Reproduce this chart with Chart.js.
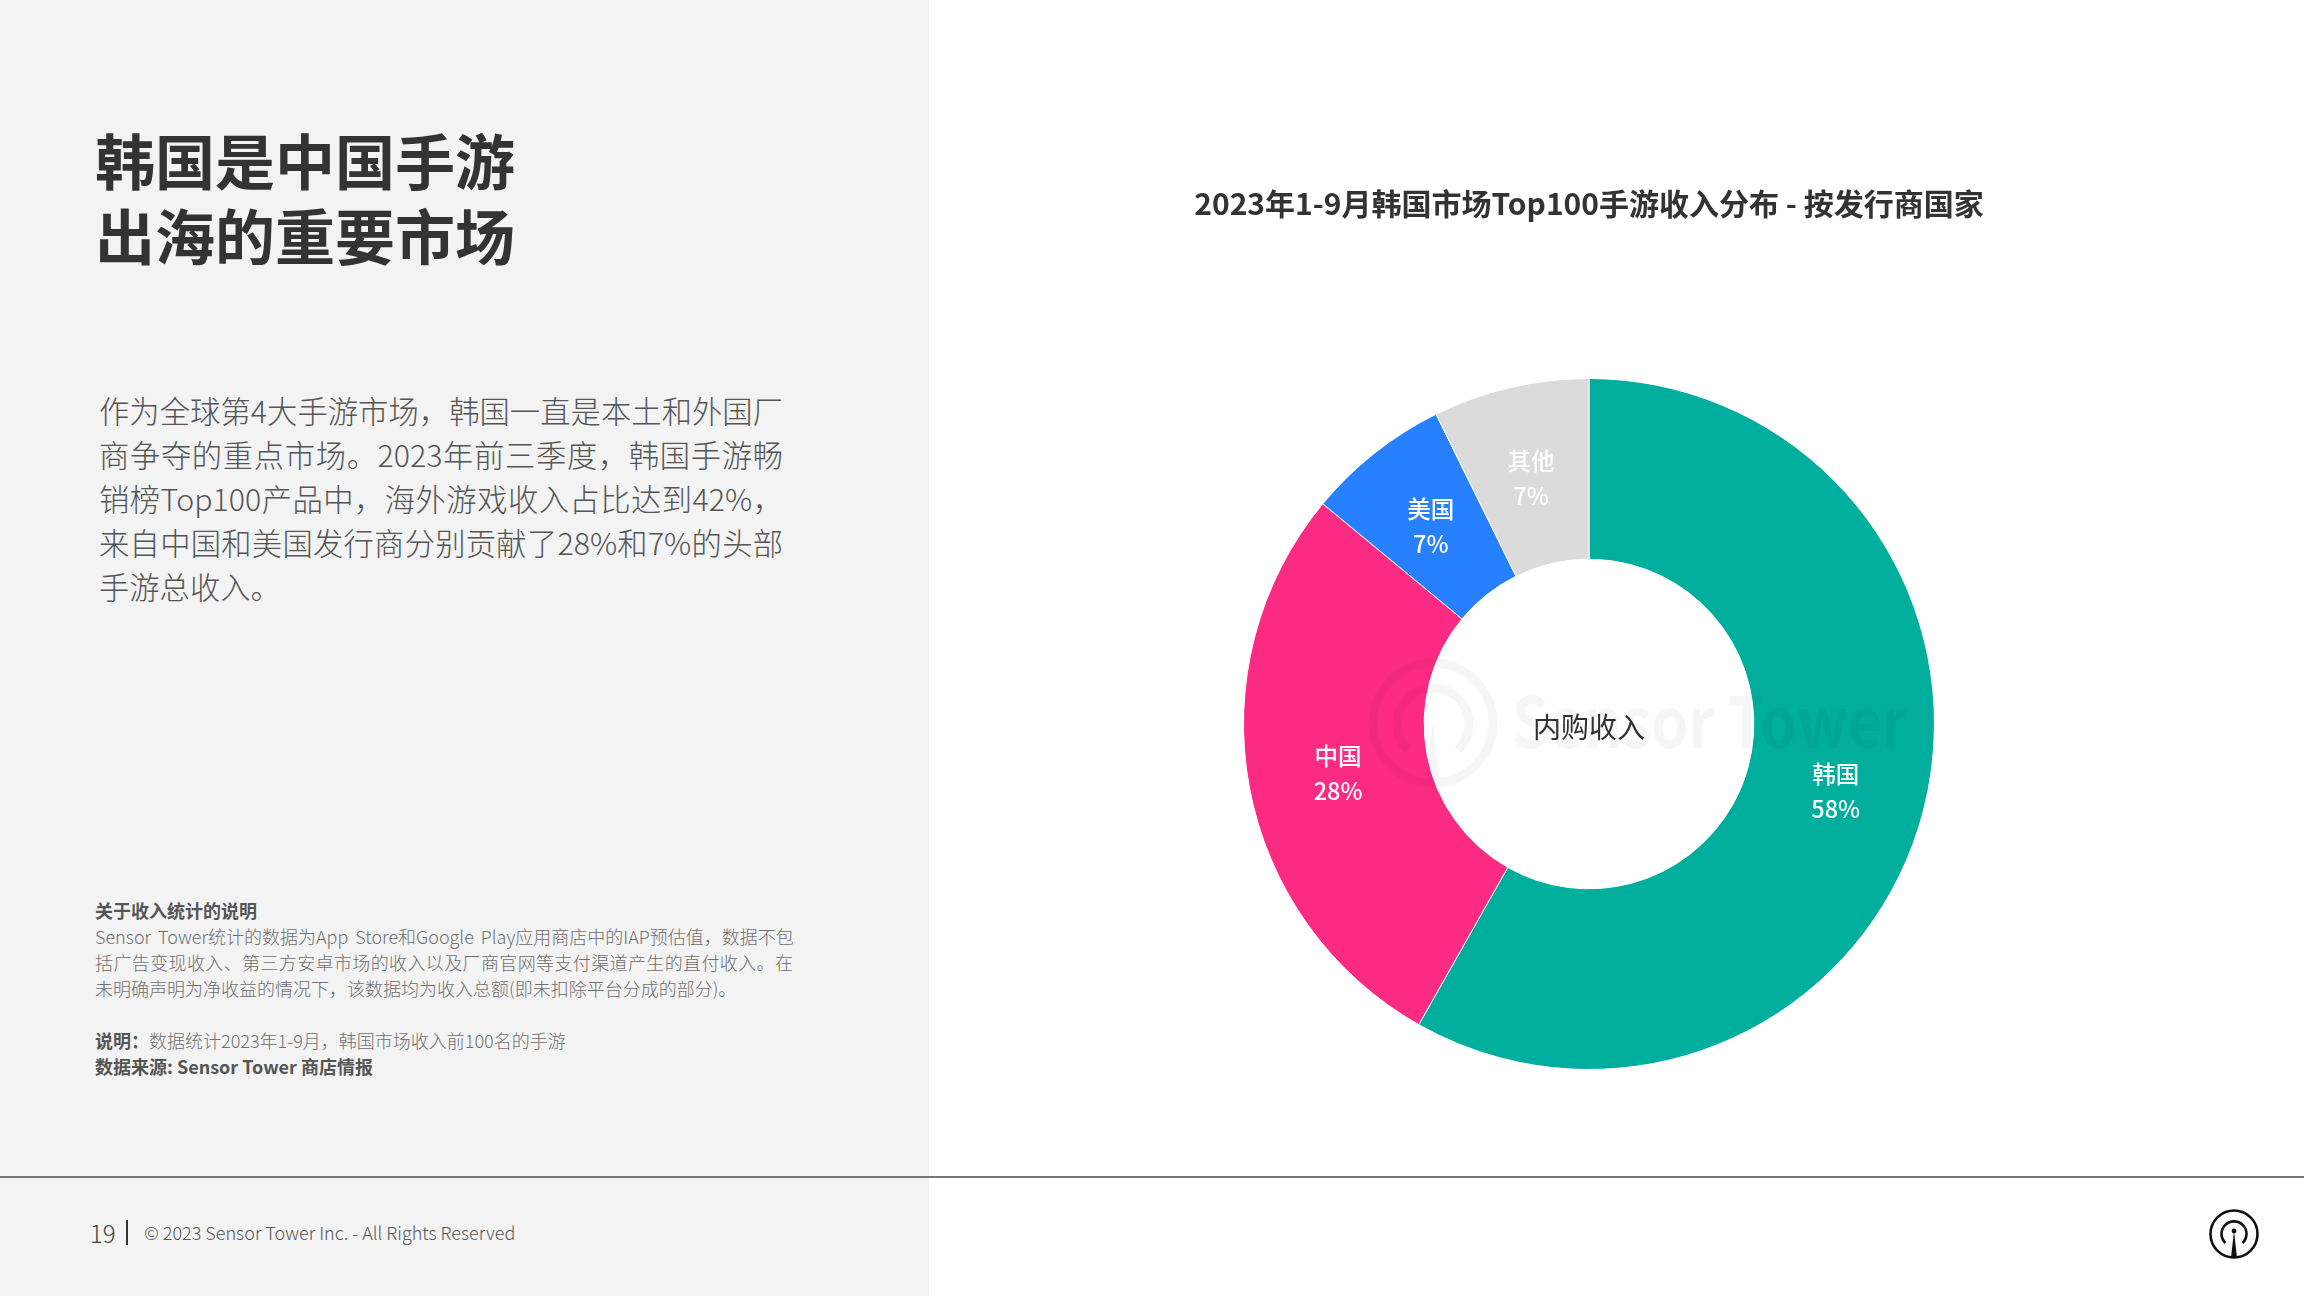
<!DOCTYPE html>
<html lang="zh">
<head>
<meta charset="utf-8">
<title>韩国是中国手游出海的重要市场</title>
<script src="https://cdn.jsdelivr.net/npm/chart.js@4"></script>
<style>
  html, body { margin: 0; padding: 0; background: #fff; }
  body { width: 2304px; height: 1296px; position: relative; overflow: hidden;
         font-family: "Noto Sans CJK SC", "Noto Sans", sans-serif; }
  .panel { position: absolute; left: 0; top: 0; width: 929px; height: 1296px; background: #f3f3f3; }
  .rule { position: absolute; left: 0; top: 1176px; width: 2304px; height: 2px; background: #77777a; }
  .t { position: absolute; white-space: nowrap; }
  #heading { left: 95px; top: 121px; font-size: 60px; line-height: 75px; font-weight: 700; color: #333; }
  #body { left: 99px; top: 388px; font-size: 30.3px; line-height: 44.1px; font-weight: 300; color: #555; }
  #body .j { display: block; width: 684px; text-align: justify; text-align-last: justify; }
  #notes { left: 95px; top: 897px; font-size: 18px; line-height: 26px; font-weight: 300; color: #6f6f6f; }
  #notes b { font-weight: 700; color: #555; }
  #notes .j { display: block; width: 698px; text-align: justify; text-align-last: justify; }
  #notes .wide { word-spacing: 3px; }
  #pageno { left: 90px; top: 1216px; font-size: 24px; line-height: 33px; font-weight: 300; color: #444; }
  #pagebar { position: absolute; left: 126px; top: 1220px; width: 2px; height: 25px; background: #333; }
  #copy { left: 144px; top: 1218px; font-size: 18px; line-height: 29px; font-weight: 300; color: #555; }
  #chart { position: absolute; left: 928px; top: 170px; }
  #mark { position: absolute; left: 1360px; top: 650px; opacity: .035; pointer-events: none; }
  #logo { position: absolute; left: 2206px; top: 1206px; }
</style>
</head>
<body>
<div class="panel"></div>
<div class="rule"></div>
<div class="t" id="heading">韩国是中国手游<br>出海的重要市场</div>
<div class="t" id="body"><span class="j">作为全球第4大手游市场，韩国一直是本土和外国厂</span><span class="j">商争夺的重点市场。2023年前三季度，韩国手游畅</span><span class="j">销榜Top100产品中，海外游戏收入占比达到42%，</span><span class="j">来自中国和美国发行商分别贡献了28%和7%的头部</span>手游总收入。</div>
<div class="t" id="notes"><b>关于收入统计的说明</b><br><span class="j wide">Sensor Tower统计的数据为App Store和Google Play应用商店中的IAP预估值，数据不包</span><span class="j">括广告变现收入、第三方安卓市场的收入以及厂商官网等支付渠道产生的直付收入。在</span>未明确声明为净收益的情况下，该数据均为收入总额(即未扣除平台分成的部分)。<br><br><b>说明：</b>数据统计2023年1-9月，韩国市场收入前100名的手游<br><b>数据来源: Sensor Tower 商店情报</b></div>
<div class="t" id="pageno">19</div>
<div id="pagebar"></div>
<div class="t" id="copy">© 2023 Sensor Tower Inc. - All Rights Reserved</div>

<canvas id="chart" width="1322" height="910"></canvas>

<svg id="mark" width="620" height="150" viewBox="0 0 620 150">
  <circle cx="73" cy="73" r="60" fill="none" stroke="#000" stroke-width="9"/>
  <path d="M48 100 A36 36 0 1 1 98 100" fill="none" stroke="#000" stroke-width="9"/>
  <path d="M73 70 L79 133 L67 133 Z" fill="#000"/>
  <text x="152" y="98" font-family="Noto Sans CJK SC" font-size="70" font-weight="700" fill="#000" textLength="396" lengthAdjust="spacingAndGlyphs">Sensor Tower</text>
</svg>

<svg id="logo" width="56" height="56" viewBox="0 0 56 56">
  <circle cx="28" cy="28" r="23.5" fill="none" stroke="#111" stroke-width="2.6"/>
  <path d="M19.5 37 A12.5 12.5 0 1 1 36.5 37" fill="none" stroke="#111" stroke-width="2.6"/>
  <circle cx="28" cy="25" r="2.4" fill="#111"/>
  <path d="M28 25 L31 51.5 L25 51.5 Z" fill="#111"/>
</svg>

<script>
const categories = ['韩国', '中国', '美国', '其他'];
const shares = [58.2, 27.8, 6.7, 7.3];
const shareLabels = ['58%', '28%', '7%', '7%'];
const sliceColors = ['#00ae9d', '#fb2b83', '#2781ff', '#dbdbdb'];
const chartTitle = '2023年1-9月韩国市场Top100手游收入分布 - 按发行商国家';
const centerLabel = '内购收入';

// slice labels and the text in the hole
const sliceText = {
  id: 'sliceText',
  afterDatasetsDraw(chart) {
    const ctx = chart.ctx;
    ctx.save();
    ctx.textAlign = 'center';
    ctx.textBaseline = 'middle';
    ctx.fillStyle = '#fff';
    chart.getDatasetMeta(0).data.forEach((arc, i) => {
      const p = arc.getCenterPoint();
      ctx.font = '500 23.5px "Noto Sans CJK SC"';
      ctx.fillText(categories[i], p.x, p.y - 14.5);
      ctx.fillText(shareLabels[i], p.x, p.y + 20.5);
    });
    const first = chart.getDatasetMeta(0).data[0];
    ctx.fillStyle = '#333';
    ctx.font = '400 28px "Noto Sans CJK SC"';
    ctx.fillText(centerLabel, first.x, first.y + 3);
    ctx.restore();
  }
};

new Chart(document.getElementById('chart'), {
  type: 'doughnut',
  data: {
    labels: categories,
    datasets: [{
      data: shares,
      backgroundColor: sliceColors,
      borderColor: '#fff',
      borderWidth: 1
    }]
  },
  options: {
    responsive: false,
    animation: false,
    devicePixelRatio: 1,
    cutout: '47.7%',
    layout: { padding: { top: 0, bottom: 10 } },
    plugins: {
      legend: { display: false },
      tooltip: { enabled: false },
      title: {
        display: true,
        text: chartTitle,
        color: '#333',
        font: { family: '"Noto Sans CJK SC"', size: 30, weight: '700' },
        padding: { top: 15.5, bottom: 156.5 }
      }
    }
  },
  plugins: [sliceText]
});
</script>
</body>
</html>
